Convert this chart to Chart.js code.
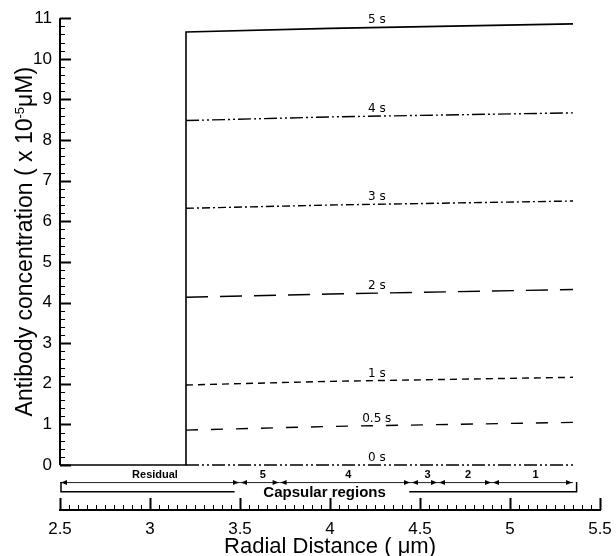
<!DOCTYPE html>
<html>
<head>
<meta charset="utf-8">
<script src="https://cdn.jsdelivr.net/npm/chart.js@4.4.0/dist/chart.umd.min.js"></script>
<style>
  html, body { margin: 0; padding: 0; background: #fff; }
  #wrap { width: 616px; height: 556px; }
</style>
</head>
<body>
<div id="wrap"><canvas id="chart" width="616" height="556"></canvas></div>
<script>
// radial positions (um)
const residualX = [2.5, 3.2];
const profileX = [3.2, 4.0, 5.35];

// antibody concentration (x 1e-5 uM) at profileX, one array per time
const conc5s = [10.66, 10.75, 10.86];
const conc4s = [8.48, 8.57, 8.67];
const conc3s = [6.32, 6.40, 6.50];
const conc2s = [4.13, 4.21, 4.32];
const conc1s = [1.97, 2.06, 2.16];
const conc05s = [0.86, 0.95, 1.05];
const conc0s = [0, 0, 0];

const timeLabels = ['5 s', '4 s', '3 s', '2 s', '1 s', '0.5 s', '0 s'];

// region annotation under the plot
const regionNames = ['Residual', '5', '4', '3', '2', '1'];
const regionBounds = [2.5, 3.5, 3.72, 4.45, 4.6, 4.9, 5.35];

// axis ticks
const xTicks = [2.5, 3, 3.5, 4, 4.5, 5, 5.5];
const yTicks = [0, 1, 2, 3, 4, 5, 6, 7, 8, 9, 10, 11];

const series = [conc5s, conc4s, conc3s, conc2s, conc1s, conc05s, conc0s];
const dashes = [
  [],
  [13, 3, 2, 3, 2, 3],
  [8, 3, 2, 3],
  [22, 12],
  [7, 5],
  [12, 13],
  [13, 3, 2, 3, 2, 3]
];

const LABEL_X = 4.26;
const ARROW_Y = -0.42;
const BRACKET_Y = -0.66;
const AXIS_FONT = '"Liberation Sans", Arial, sans-serif';

function buildPoints(vals, withResidual) {
  const pts = [];
  if (withResidual) {
    residualX.forEach(x => pts.push({ x: x, y: 0 }));
  }
  profileX.forEach((x, i) => pts.push({ x: x, y: vals[i] }));
  return pts;
}

const datasets = series.map((vals, i) => ({
  label: timeLabels[i],
  data: buildPoints(vals, i === 0),
  showLine: true,
  borderColor: '#000',
  borderWidth: i === 0 ? 1.6 : 1.4,
  borderDash: dashes[i],
  pointRadius: 0,
  tension: 0,
  fill: false
}));

function arrowHead(ctx, x, y, dir) {
  ctx.beginPath();
  ctx.moveTo(x, y);
  ctx.lineTo(x - dir * 6, y - 2.5);
  ctx.lineTo(x - dir * 6, y + 2.5);
  ctx.closePath();
  ctx.fill();
}

// where a curve sits at LABEL_X (for placing its time label only)
function valueAt(vals, x) {
  for (let i = 0; i < profileX.length - 1; i++) {
    if (x <= profileX[i + 1]) {
      const t = (x - profileX[i]) / (profileX[i + 1] - profileX[i]);
      return vals[i] + t * (vals[i + 1] - vals[i]);
    }
  }
  return vals[vals.length - 1];
}

const decorations = {
  id: 'decorations',
  afterDraw(chart) {
    const ctx = chart.ctx;
    const xs = chart.scales.x;
    const ys = chart.scales.y;
    const area = chart.chartArea;
    const px = v => xs.getPixelForValue(v);
    const py = v => ys.getPixelForValue(v);

    ctx.save();
    ctx.strokeStyle = '#000';
    ctx.fillStyle = '#000';

    // y axis line and inner ticks
    const ax = area.left;
    ctx.lineWidth = 2;
    ctx.beginPath();
    ctx.moveTo(ax, py(0));
    ctx.lineTo(ax, py(11));
    ctx.stroke();
    for (let k = 0; k <= 55; k++) {
      const v = k * 0.2;
      const major = k % 5 === 0;
      ctx.lineWidth = major ? 2 : 1;
      ctx.beginPath();
      ctx.moveTo(ax, Math.round(py(v)) + 0.5);
      ctx.lineTo(ax + (major ? 11 : 5), Math.round(py(v)) + 0.5);
      ctx.stroke();
    }

    // x axis line and inner ticks
    const by = area.bottom;
    ctx.lineWidth = 2;
    ctx.beginPath();
    ctx.moveTo(px(2.5) - 1, by);
    ctx.lineTo(px(5.5) + 1, by);
    ctx.stroke();
    for (let k = 0; k <= 60; k++) {
      const v = 2.5 + k * 0.05;
      const major = k % 10 === 0;
      const x = Math.round(px(v)) + 0.5;
      ctx.lineWidth = major ? 2 : 1;
      ctx.beginPath();
      ctx.moveTo(x, by);
      ctx.lineTo(x, by - (major ? 12 : 5));
      ctx.stroke();
    }

    // time labels above each curve
    ctx.font = '12px "DejaVu Sans", sans-serif';
    ctx.textAlign = 'center';
    ctx.textBaseline = 'alphabetic';
    series.forEach((vals, i) => {
      ctx.fillText(timeLabels[i], px(LABEL_X), py(valueAt(vals, LABEL_X)) - 4);
    });

    // region arrows
    const ay = py(ARROW_Y);
    ctx.strokeStyle = '#222';
    ctx.lineWidth = 1;
    for (let i = 0; i < regionNames.length; i++) {
      const x1 = px(regionBounds[i]);
      const x2 = px(regionBounds[i + 1]);
      ctx.beginPath();
      ctx.moveTo(x1, ay + 0.5);
      ctx.lineTo(x2, ay + 0.5);
      ctx.stroke();
      arrowHead(ctx, x1 + 1, ay + 0.5, -1);
      arrowHead(ctx, x2 - 1, ay + 0.5, 1);
      ctx.font = 'bold 11px ' + AXIS_FONT;
      const lx = i === 0 ? (x1 + x2) / 2 + 5 : (x1 + x2) / 2 + 3;
      ctx.fillText(regionNames[i], lx, ay - 4);
    }

    // brackets
    const bkY = py(BRACKET_Y);
    ctx.strokeStyle = '#000';
    ctx.lineWidth = 1.5;
    ctx.beginPath();
    ctx.moveTo(px(2.5) + 1, ay);
    ctx.lineTo(px(2.5) + 1, bkY);
    ctx.lineTo(px(3.47), bkY);
    ctx.stroke();
    ctx.beginPath();
    ctx.moveTo(px(4.44), bkY);
    ctx.lineTo(px(5.37), bkY);
    ctx.lineTo(px(5.37), ay);
    ctx.stroke();
    ctx.font = 'bold 15px ' + AXIS_FONT;
    ctx.fillText('Capsular regions', px(3.97), bkY + 5);

    // x title
    ctx.font = '22px ' + AXIS_FONT;
    ctx.fillText('Radial Distance ( \u03bcm)', (area.left + area.right) / 2, chart.height - 3);

    // y title with superscript
    const big = '23px ' + AXIS_FONT;
    const small = '13px ' + AXIS_FONT;
    const p1 = 'Antibody concentration ( x 10';
    const p2 = '-5';
    const p3 = '\u03bcM)';
    ctx.font = big;
    const w1 = ctx.measureText(p1).width;
    const w3 = ctx.measureText(p3).width;
    ctx.font = small;
    const w2 = ctx.measureText(p2).width;
    const total = w1 + w2 + w3;
    ctx.translate(24, py(5.5));
    ctx.rotate(-Math.PI / 2);
    ctx.textAlign = 'left';
    const x0 = -total / 2;
    ctx.font = big;
    ctx.fillText(p1, x0, 8);
    ctx.font = small;
    ctx.fillText(p2, x0 + w1, 0);
    ctx.font = big;
    ctx.fillText(p3, x0 + w1 + w2, 8);

    ctx.restore();
  }
};

new Chart(document.getElementById('chart'), {
  type: 'scatter',
  data: { datasets: datasets },
  options: {
    responsive: false,
    animation: false,
    devicePixelRatio: 1,
    layout: { padding: { top: 18, right: 16, left: 0, bottom: 0 } },
    plugins: {
      legend: { display: false },
      tooltip: { enabled: false }
    },
    scales: {
      x: {
        type: 'linear',
        min: 2.5,
        max: 5.5,
        afterBuildTicks: s => { s.ticks = xTicks.map(v => ({ value: v })); },
        afterFit: s => { s.height = 46; s.paddingLeft = 0; s.paddingRight = 0; },
        grid: { display: false, drawTicks: false },
        border: { display: false },
        ticks: {
          color: '#000',
          padding: 9,
          maxRotation: 0,
          autoSkip: false,
          font: { family: AXIS_FONT, size: 17 },
          callback: v => String(v)
        }
      },
      y: {
        type: 'linear',
        min: -1.107,
        max: 11,
        afterBuildTicks: s => { s.ticks = yTicks.map(v => ({ value: v })); },
        afterFit: s => { s.width = 60; },
        grid: { display: false, drawTicks: false },
        border: { display: false },
        ticks: {
          color: '#000',
          padding: 8,
          autoSkip: false,
          font: { family: AXIS_FONT, size: 17 },
          callback: v => String(v)
        }
      }
    }
  },
  plugins: [decorations]
});
</script>
</body>
</html>
